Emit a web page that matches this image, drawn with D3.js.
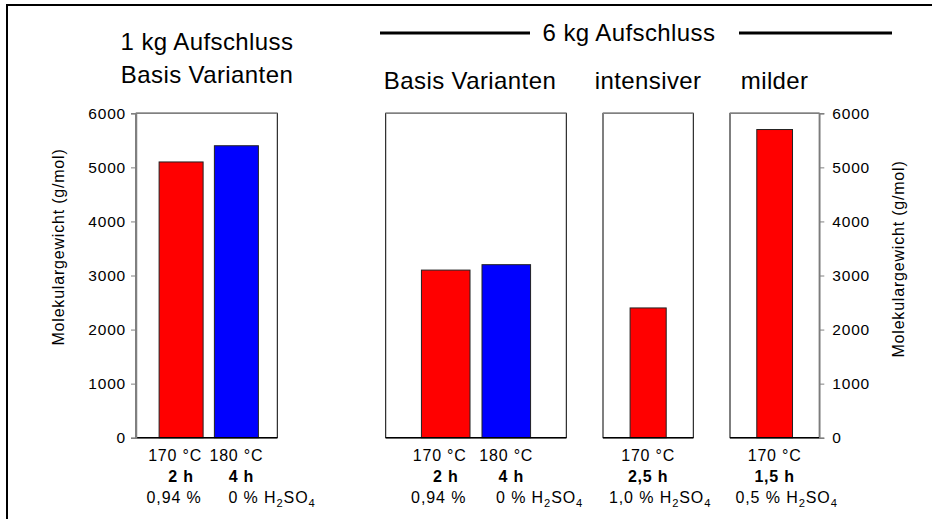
<!DOCTYPE html>
<html><head><meta charset="utf-8">
<script src="https://cdn.jsdelivr.net/npm/d3@7"></script>
<style>
body{margin:0;background:#fff;}
svg{display:block;font-family:"Liberation Sans",Arial,sans-serif;}
</style></head><body>
<svg id="chart" width="932" height="519"></svg>
<script>
// ---------- data ----------
const groupTitles = ["1 kg Aufschluss", "6 kg Aufschluss"];
const panelTitles = ["Basis Varianten", "Basis Varianten", "intensiver", "milder"];
const categories = [["1kg-170", "1kg-180"], ["6kg-170", "6kg-180"], ["6kg-int"], ["6kg-mild"]];
const values = [[5100, 5400], [3100, 3200], [2400], [5700]];
const barColors = [["#ff0000", "#0000ff"], ["#ff0000", "#0000ff"], ["#ff0000"], ["#ff0000"]];
const tempLabels = [["170 °C", "180 °C"], ["170 °C", "180 °C"], ["170 °C"], ["170 °C"]];
const timeLabels = [["2 h", "4 h"], ["2 h", "4 h"], ["2,5 h"], ["1,5 h"]];
const acidLabels = [["0,94 %", "0 % H2SO4"], ["0,94 %", "0 % H2SO4"], ["1,0 % H2SO4"], ["0,5 % H2SO4"]];
const yTicks = [0, 1000, 2000, 3000, 4000, 5000, 6000];
const yDomain = [0, 6000];
const yTitle = "Molekulargewicht (g/mol)";

// ---------- layout ----------
const svg = d3.select("#chart");
const yTop = 113.3, yBottom = 437.7;
const panelX = [[136, 277.3], [385.7, 566.3], [603, 693.3], [730, 819.3]];
const padIn = [0.204, 0.198, 0.2, 0.2];
const padOut = [0.38, 0.59, 0.6, 0.6];
const aligns = [0.55, 0.5, 0.5, 0.5];
const FONT = '"Liberation Sans",Arial,sans-serif';

const y = d3.scaleLinear().domain(yDomain).range([yBottom, yTop]);

// outer frame
svg.append("rect").attr("x", 7).attr("y", 5).attr("width", 1000).attr("height", 1000)
  .attr("fill", "none").attr("stroke", "#000").attr("stroke-width", 2);

// group titles
svg.append("text").attr("x", 207).attr("y", 50).attr("text-anchor", "middle")
  .attr("font-size", 24).attr("letter-spacing", 0.4).text(groupTitles[0]);
svg.append("text").attr("x", 207).attr("y", 83).attr("text-anchor", "middle")
  .attr("font-size", 24).attr("letter-spacing", 0.4).text(panelTitles[0]);

svg.append("line").attr("x1", 380).attr("x2", 530).attr("y1", 33).attr("y2", 33)
  .attr("stroke", "#000").attr("stroke-width", 3);
svg.append("line").attr("x1", 739).attr("x2", 892).attr("y1", 33).attr("y2", 33)
  .attr("stroke", "#000").attr("stroke-width", 3);
svg.append("text").attr("x", 629).attr("y", 41).attr("text-anchor", "middle")
  .attr("font-size", 24).attr("letter-spacing", 0.4).text(groupTitles[1]);

function addChem(sel, str) {
  const m = str.match(/^(.*?)(H2SO4)$/);
  if (!m) { sel.text(str); return; }
  sel.append("tspan").text(m[1] + "H");
  sel.append("tspan").attr("font-size", "70%").attr("dy", 4).text("2");
  sel.append("tspan").attr("dy", -4).text("SO");
  sel.append("tspan").attr("font-size", "70%").attr("dy", 4).text("4");
}

panelX.forEach((px, i) => {
  const x = d3.scaleBand().domain(categories[i]).range(px)
    .paddingInner(padIn[i]).paddingOuter(padOut[i]).align(aligns[i]);
  const g = svg.append("g");

  g.append("rect").attr("x", px[0]).attr("y", yTop).attr("width", px[1] - px[0]).attr("height", yBottom - yTop)
    .attr("fill", "#fff").attr("stroke", "#000").attr("stroke-width", 1);
  g.append("line").attr("x1", px[0]).attr("x2", px[1]).attr("y1", yTop).attr("y2", yTop)
    .attr("stroke", "#808080").attr("stroke-width", 1.5);

  g.selectAll("rect.bar").data(categories[i]).join("rect").attr("class", "bar")
    .attr("x", d => x(d)).attr("width", x.bandwidth())
    .attr("y", (d, j) => y(values[i][j])).attr("height", (d, j) => y(0) - y(values[i][j]))
    .attr("fill", (d, j) => barColors[i][j]).attr("stroke", "#222").attr("stroke-width", 1);

  g.append("line").attr("x1", px[0]).attr("x2", px[1]).attr("y1", yBottom).attr("y2", yBottom)
    .attr("stroke", "#000").attr("stroke-width", 1.5);

  if (i > 0) {
    g.append("text").attr("x", i === 1 ? 470 : (px[0] + px[1]) / 2).attr("y", 89).attr("text-anchor", "middle")
      .attr("font-size", 24).attr("letter-spacing", 0.4).text(panelTitles[i]);
  }

  const n = categories[i].length;
  categories[i].forEach((c, j) => {
    const cx = x(c) + x.bandwidth() / 2;
    const tdx = (n === 2 && j === 0) ? -6 : 0;
    g.append("text").attr("x", cx + tdx).attr("y", 461).attr("text-anchor", "middle")
      .attr("font-size", 16).attr("letter-spacing", 0.8).text(tempLabels[i][j]);
    g.append("text").attr("x", cx + (n === 2 && j === 1 ? 5 : 0)).attr("y", 482).attr("text-anchor", "middle")
      .attr("font-size", 16).attr("font-weight", "bold").attr("letter-spacing", 0.8).text(timeLabels[i][j]);
    const t = g.append("text").attr("y", 503).attr("font-size", 16).attr("letter-spacing", 0.9);
    if (n === 2 && j === 0) t.attr("x", cx - 7).attr("text-anchor", "middle");
    else if (n === 2 && j === 1) t.attr("x", x(c) + 14).attr("text-anchor", "start");
    else t.attr("x", cx + 12).attr("text-anchor", "middle");
    addChem(t, acidLabels[i][j]);
  });
});

const axL = svg.append("g").attr("transform", `translate(${panelX[0][0]},0)`)
  .call(d3.axisLeft(y).tickValues(yTicks).tickSize(5).tickPadding(5).tickFormat(d3.format("d")));
const axR = svg.append("g").attr("transform", `translate(${panelX[3][1]},0)`)
  .call(d3.axisRight(y).tickValues(yTicks).tickSize(5).tickPadding(8).tickFormat(d3.format("d")));
[axL, axR].forEach(a => {
  a.select(".domain").attr("stroke", "#808080").attr("stroke-width", 1.5);
  a.selectAll(".tick line").attr("stroke", "#808080");
  a.selectAll(".tick text").attr("font-size", 15.5).attr("font-family", FONT)
    .attr("letter-spacing", 0.8).attr("fill", "#000");
});

svg.append("text").attr("transform", "translate(64,247) rotate(-90)").attr("text-anchor", "middle")
  .attr("font-size", 16).attr("letter-spacing", 0.8).text(yTitle);
svg.append("text").attr("transform", "translate(904,259) rotate(-90)").attr("text-anchor", "middle")
  .attr("font-size", 16).attr("letter-spacing", 0.8).text(yTitle);
</script>
</body></html>
